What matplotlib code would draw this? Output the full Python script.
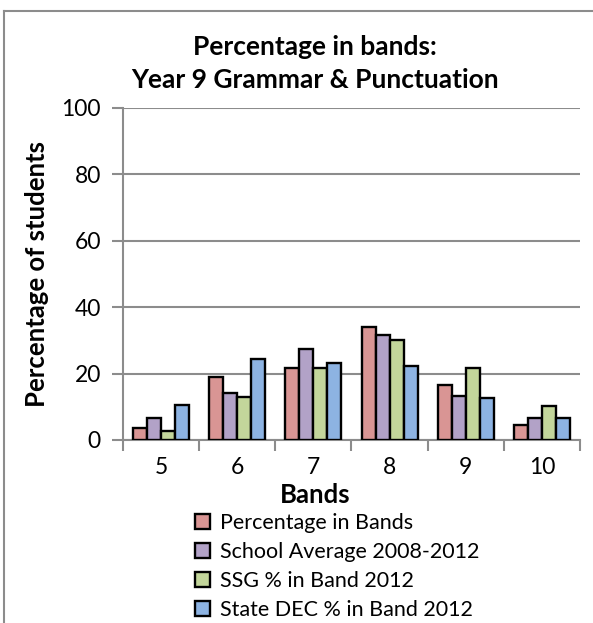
import numpy as np
from matplotlib import pyplot as plt
from matplotlib.lines import Line2D

bands = ["5", "6", "7", "8", "9", "10"]
series_names = ["Percentage in Bands", "School Average 2008-2012",
                "SSG % in Band 2012", "State DEC % in Band 2012"]
pct_in_bands = [3.7, 18.9, 21.8, 34.1, 16.5, 4.5]
school_avg = [6.5, 14.2, 27.5, 31.7, 13.3, 6.5]
ssg_2012 = [2.7, 12.9, 21.8, 30.2, 21.7, 10.2]
state_dec_2012 = [10.5, 24.3, 23.2, 22.2, 12.8, 6.5]

colors = ["#D99594", "#B2A2C7", "#C3D69B", "#8DB3E2"]
grid_col = "#8C8C8C"

plt.rcParams['font.family'] = ['Lato', 'DejaVu Sans']

fig = plt.figure(figsize=(5.93, 6.23), dpi=100)
W, H = 593, 623
ax = fig.add_axes([123 / W, 1 - 440 / H, 457 / W, 332 / H])

x = np.arange(len(bands))
width = 0.184
all_series = [pct_in_bands, school_avg, ssg_2012, state_dec_2012]
for i, (vals, name, col) in enumerate(zip(all_series, series_names, colors)):
    ax.bar(x + (i - 1.5) * width, vals, width, color=col, edgecolor="black",
           linewidth=1.7, label=name, zorder=3)

ax.set_xlim(-0.5, len(bands) - 0.5)
ax.set_ylim(0, 100)
ax.set_yticks(range(0, 101, 20))
ax.yaxis.grid(True, color=grid_col, linewidth=1.5, zorder=0)
ax.set_xticks(x)
ax.set_xticklabels(bands)
ax.set_xticks(np.arange(-0.5, len(bands), 1), minor=True)
ax.tick_params(axis="x", which="major", length=0, pad=12, labelsize=16.5)
ax.tick_params(axis="x", which="minor", length=8, width=1.5, color=grid_col)
ax.tick_params(axis="y", length=8, width=1.5, color=grid_col, labelsize=16.5, pad=8)
for side in ["top", "right"]:
    ax.spines[side].set_visible(False)
for side in ["left", "bottom"]:
    ax.spines[side].set_color(grid_col)
    ax.spines[side].set_linewidth(1.5)

fig.text(315 / W, 1 - 47 / H, "Percentage in bands:", ha="center", va="center",
         fontsize=19, fontweight="bold")
fig.text(315 / W, 1 - 80 / H, "Year 9 Grammar & Punctuation", ha="center",
         va="center", fontsize=19, fontweight="bold")
fig.text(37 / W, 1 - 274 / H, "Percentage of students", rotation=90, ha="center",
         va="center", fontsize=18.5, fontweight="bold")
fig.text(315 / W, 1 - 495 / H, "Bands", ha="center", va="center",
         fontsize=18.5, fontweight="bold")

fig.legend(loc="upper left", bbox_to_anchor=(195 / W, 1 - 513 / H), frameon=False,
           fontsize=15.5, handlelength=0.7, handleheight=0.7, handletextpad=0.45,
           labelspacing=0.42, borderpad=0, borderaxespad=0)

fig.add_artist(Line2D([4 / W, 4 / W], [0, 1 - 11 / H], color=grid_col, linewidth=1.5))
fig.add_artist(Line2D([4 / W, 1], [1 - 11 / H, 1 - 11 / H], color=grid_col, linewidth=1.5))

fig.savefig("out.png", dpi=100)
